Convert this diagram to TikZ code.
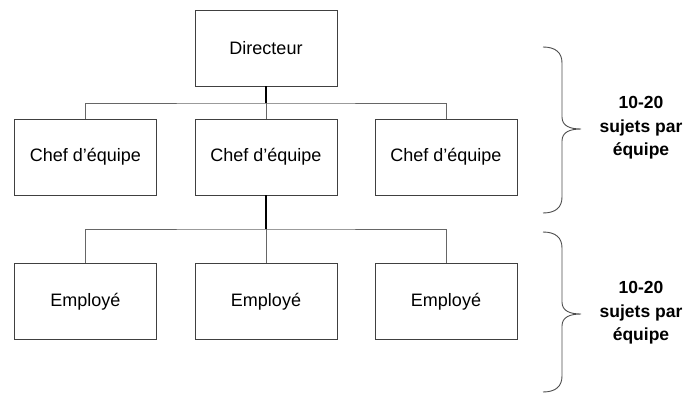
\documentclass[tikz,border=0pt]{standalone}
\usepackage{fontspec}
\setmainfont{Liberation Sans}
\begin{document}
\begin{tikzpicture}[x=1pt,y=-1pt,
  box/.style={draw=black!75,line width=0.9pt,minimum width=142pt,minimum height=76pt,
    inner sep=0pt,font=\fontsize{18}{21}\selectfont},
  link/.style={draw=black!60,line width=1pt},
  trunk/.style={draw=black,line width=2pt},
  bracepath/.style={draw=black!70,line width=0.9pt},
  note/.style={align=center,font=\bfseries\fontsize{17.5}{23.5}\selectfont}]
\useasboundingbox (0,0) rectangle (698,394);

% hierarchy boxes
\node[box] (dir) at (266,48) {Directeur};
\node[box] (c1) at (85.5,157) {Chef d’équipe};
\node[box] (c2) at (266,157) {Chef d’équipe};
\node[box] (c3) at (446,157) {Chef d’équipe};
\node[box] (e1) at (85.5,301.5) {Employé};
\node[box] (e2) at (266,301.5) {Employé};
\node[box] (e3) at (446,301.5) {Employé};

% junction points of the two levels
\coordinate (bus1) at (266,103);
\coordinate (bus2) at (266,229);

% director to team leaders
\draw[trunk] (dir.south) -- (bus1);
\draw[link] (c1.north) |- (bus1) -| (c3.north);
\draw[link] (bus1) -- (c2.north);

% team leaders to employees
\draw[trunk] (c2.south) -- (bus2);
\draw[link] (e1.north) |- (bus2) -| (e3.north);
\draw[link] (bus2) -- (e2.north);

% curly braces on the right
\draw[bracepath] (543,47) .. controls (556,47) and (562,53) .. (562,63)
  -- (562,117) .. controls (562,126) and (570,129) .. (581,129)
  .. controls (570,129) and (562,132) .. (562,141)
  -- (562,197) .. controls (562,207) and (556,213) .. (543,213);
\draw[bracepath] (543,232) .. controls (556,232) and (562,238) .. (562,248)
  -- (562,302) .. controls (562,311) and (570,314) .. (581,314)
  .. controls (570,314) and (562,317) .. (562,326)
  -- (562,376) .. controls (562,386) and (556,392) .. (543,392);

% brace labels
\node[note] (n1) at (641,128) {10-20\\sujets par\\équipe};
\node[note] (n2) at (641,313) {10-20\\sujets par\\équipe};
\end{tikzpicture}
\end{document}
